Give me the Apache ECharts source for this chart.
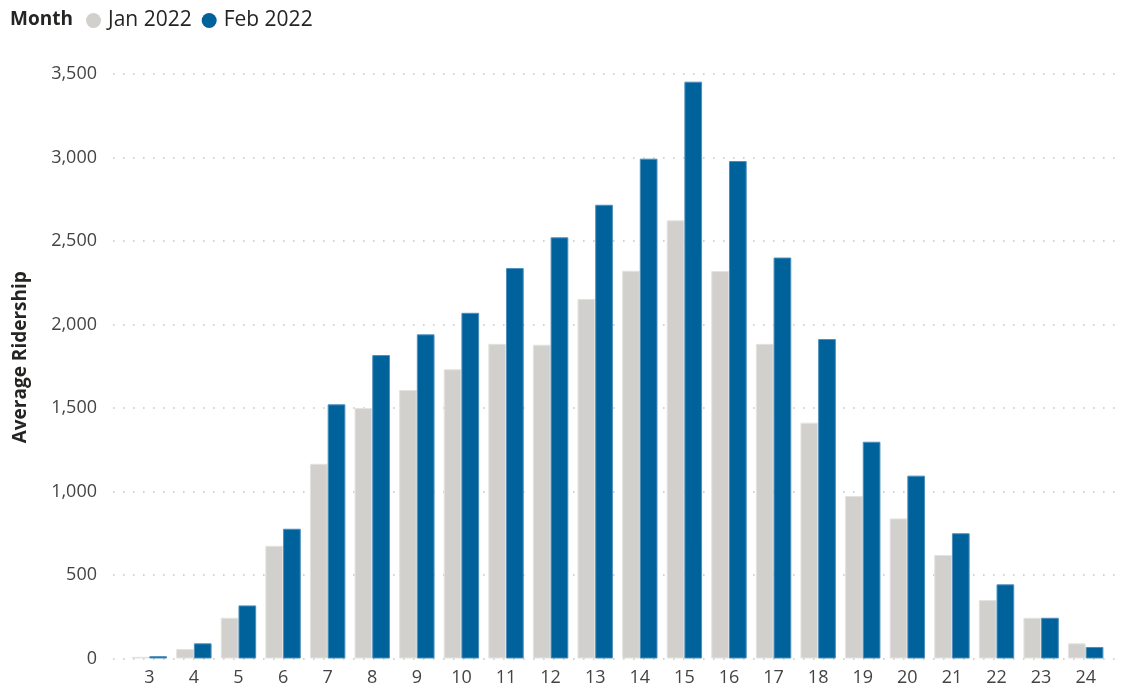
<!DOCTYPE html>
<html>
<head>
<meta charset="utf-8">
<title>Average Ridership by Hour</title>
<script src="https://cdn.jsdelivr.net/npm/echarts@6/dist/echarts.min.js"></script>
<style>
  html, body { margin: 0; padding: 0; background: #ffffff; }
  #chart { width: 1122px; height: 690px; }
</style>
</head>
<body>
<div id="chart"></div>
<script>
// Hour of day
const hours = ['3','4','5','6','7','8','9','10','11','12','13','14','15','16','17','18','19','20','21','22','23','24'];

// Average ridership per hour
const jan2022 = [10, 57, 244, 675, 1166, 1500, 1608, 1732, 1884, 1879, 2153, 2322, 2624, 2320, 1884, 1412, 973, 839, 620, 350, 244, 91];
const feb2022 = [14, 91, 318, 777, 1522, 1817, 1941, 2070, 2338, 2522, 2717, 2993, 3454, 2979, 2401, 1913, 1298, 1095, 750, 444, 244, 69];

const seriesNames = ['Jan 2022', 'Feb 2022'];
const yTicks = { min: 0, max: 3500, interval: 500 };

const FONT = '"Open Sans", "DejaVu Sans", sans-serif';
const GRAY = '#D1D0CD';
const BLUE = '#00629B';

const chart = echarts.init(document.getElementById('chart'), null, { renderer: 'canvas' });

const fmt = v => v.toLocaleString('en-US');

chart.setOption({
  animation: false,
  textStyle: { fontFamily: FONT },
  title: {
    text: 'Month',
    left: 5,
    top: 5,
    textStyle: { fontFamily: FONT, fontSize: 19, fontWeight: 'bold', color: '#252423' }
  },
  legend: {
    data: seriesNames,
    left: 81,
    top: 5,
    icon: 'circle',
    itemWidth: 15,
    itemHeight: 15,
    itemGap: 10,
    itemStyle: { borderWidth: 0 },
    textStyle: { fontFamily: FONT, fontSize: 21, color: '#252423', padding: [0, 0, 0, 2] }
  },
  grid: [
    // plot area for the bars
    { left: 127, right: 14, top: 74, bottom: 31.5, containLabel: false },
    // wider band carrying the dotted gridlines
    { left: 113, right: 2, top: 74, bottom: 31.5, containLabel: false }
  ],
  xAxis: [
    {
      type: 'category',
      gridIndex: 0,
      data: hours,
      axisLine: { show: false },
      axisTick: { show: false },
      axisLabel: { fontFamily: FONT, fontSize: 18, color: '#444444', margin: 10 }
    },
    {
      type: 'value',
      gridIndex: 1,
      min: 0, max: 1,
      show: false
    }
  ],
  yAxis: [
    {
      type: 'value',
      gridIndex: 0,
      min: yTicks.min, max: yTicks.max, interval: yTicks.interval,
      name: 'Average Ridership',
      nameLocation: 'middle',
      nameGap: 97,
      nameTextStyle: {
        fontFamily: FONT, fontSize: 19, fontWeight: 'bold', color: '#252423',
        padding: [0, 0, 0, 18]
      },
      axisLine: { show: false },
      axisTick: { show: false },
      splitLine: { show: false },
      axisLabel: { fontFamily: FONT, fontSize: 18, color: '#444444', margin: 30, formatter: fmt }
    },
    {
      type: 'value',
      gridIndex: 1,
      min: yTicks.min, max: yTicks.max, interval: yTicks.interval,
      axisLine: { show: false },
      axisTick: { show: false },
      axisLabel: { show: false },
      splitLine: {
        show: true,
        lineStyle: { color: '#C8C6C4', width: 1.6, type: [1.6, 8.4] }
      }
    }
  ],
  series: [
    {
      name: seriesNames[0],
      type: 'bar',
      xAxisIndex: 0, yAxisIndex: 0,
      data: jan2022,
      barGap: '0%',
      barCategoryGap: '20.6%',
      itemStyle: { color: GRAY, borderColor: '#E4E3E1', borderWidth: 1 },
      z: 3
    },
    {
      name: seriesNames[1],
      type: 'bar',
      xAxisIndex: 0, yAxisIndex: 0,
      data: feb2022,
      barGap: '0%',
      barCategoryGap: '20.6%',
      itemStyle: { color: BLUE, borderColor: '#4D8FBC', borderWidth: 1 },
      z: 3
    }
  ]
});
</script>
</body>
</html>
